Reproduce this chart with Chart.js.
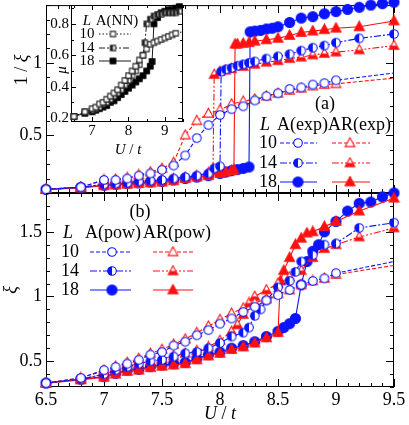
<!DOCTYPE html>
<html>
<head>
<meta charset="utf-8">
<script src="https://cdn.jsdelivr.net/npm/chart.js"></script>
<style>
  body { margin: 0; background: #fff; width: 409px; height: 425px; position: relative; overflow: hidden; }
  canvas { position: absolute; }
</style>
</head>
<body>
<canvas id="pa" width="409" height="200" style="left:0;top:0"></canvas>
<canvas id="pb" width="409" height="245" style="left:0;top:180px"></canvas>
<canvas id="inset" width="150" height="160" style="left:40px;top:0"></canvas>
<script>
// ---- panel (a): 1/xi from exponential fit ----
const uA10 = [6.5, 6.8, 7.0, 7.1, 7.2, 7.3, 7.4, 7.5, 7.6, 7.7, 7.8, 7.9, 8.0, 8.1, 8.2, 8.3, 8.4, 8.5, 8.6, 8.7, 8.8, 8.9, 9.0, 9.5];
const expA10 = [0.125, 0.14, 0.19, 0.19, 0.2, 0.22, 0.235, 0.26, 0.29, 0.36, 0.48, 0.57, 0.64, 0.68, 0.7, 0.74, 0.77, 0.79, 0.82, 0.83, 0.85, 0.86, 0.88, 0.93];
const expAR10 = [0.125, 0.14, 0.19, 0.195, 0.205, 0.225, 0.245, 0.27, 0.31, 0.5, 0.6, 0.65, 0.675, 0.715, 0.735, 0.75, 0.77, 0.79, 0.81, 0.825, 0.84, 0.85, 0.855, 0.895];

const uA14 = [6.5, 6.8, 7.0, 7.1, 7.2, 7.3, 7.4, 7.5, 7.6, 7.7, 7.8, 7.9, 7.95, 8.0, 8.01, 8.05, 8.1, 8.15, 8.2, 8.25, 8.3, 8.4, 8.5, 8.6, 8.7, 8.8, 8.9, 9.0, 9.2, 9.5];
const expA14 = [0.125, 0.14, 0.16, 0.165, 0.17, 0.18, 0.185, 0.19, 0.2, 0.21, 0.22, 0.235, 0.27, 0.285, 0.94, 0.955, 0.965, 0.98, 0.99, 1.0, 1.01, 1.03, 1.045, 1.06, 1.085, 1.105, 1.12, 1.14, 1.17, 1.2];
const uAR14 = [6.5, 6.8, 7.0, 7.1, 7.2, 7.3, 7.4, 7.5, 7.6, 7.7, 7.8, 7.9, 7.94, 7.95, 8.0, 8.05, 8.1, 8.2, 8.3, 8.4, 8.5, 8.6, 8.7, 8.8, 8.9, 9.0, 9.2, 9.5];
const expAR14 = [0.125, 0.14, 0.16, 0.165, 0.17, 0.18, 0.185, 0.19, 0.2, 0.21, 0.22, 0.24, 0.26, 0.92, 0.94, 0.95, 0.96, 0.975, 0.99, 1.005, 1.015, 1.03, 1.04, 1.055, 1.065, 1.075, 1.09, 1.12];

const uA18 = [6.5, 6.8, 7.0, 7.1, 7.2, 7.3, 7.4, 7.5, 7.6, 7.7, 7.8, 7.9, 8.0, 8.05, 8.1, 8.15, 8.2, 8.25, 8.26, 8.3, 8.35, 8.4, 8.45, 8.5, 8.6, 8.7, 8.8, 8.9, 9.0, 9.1, 9.2, 9.3, 9.4, 9.5];
const expA18 = [0.125, 0.138, 0.154, 0.16, 0.165, 0.17, 0.176, 0.18, 0.19, 0.2, 0.21, 0.22, 0.235, 0.245, 0.255, 0.262, 0.27, 0.28, 1.215, 1.22, 1.225, 1.235, 1.24, 1.25, 1.28, 1.31, 1.32, 1.34, 1.355, 1.37, 1.385, 1.4, 1.41, 1.42];
const uAR18 = [6.5, 6.8, 7.0, 7.1, 7.2, 7.3, 7.4, 7.5, 7.6, 7.7, 7.8, 7.9, 8.0, 8.05, 8.1, 8.12, 8.13, 8.15, 8.2, 8.25, 8.3, 8.4, 8.5, 8.6, 8.7, 8.8, 8.9, 9.0, 9.2, 9.5];
const expAR18 = [0.125, 0.135, 0.15, 0.155, 0.16, 0.165, 0.17, 0.175, 0.185, 0.2, 0.21, 0.22, 0.235, 0.245, 0.255, 0.26, 1.13, 1.13, 1.135, 1.14, 1.15, 1.16, 1.17, 1.19, 1.21, 1.22, 1.23, 1.24, 1.25, 1.29];

// ---- panel (b): xi from power-law fit ----
const uB10 = [6.5, 6.8, 7.0, 7.1, 7.2, 7.3, 7.4, 7.5, 7.6, 7.7, 7.8, 7.9, 8.0, 8.1, 8.2, 8.3, 8.4, 8.5, 8.6, 8.7, 8.8, 8.9, 9.0, 9.5];
const powA10 = [0.33, 0.37, 0.43, 0.455, 0.48, 0.51, 0.55, 0.57, 0.62, 0.65, 0.7, 0.74, 0.79, 0.83, 0.88, 0.92, 0.97, 1.01, 1.05, 1.09, 1.12, 1.14, 1.18, 1.27];
const powAR10 = [0.33, 0.37, 0.43, 0.46, 0.49, 0.52, 0.56, 0.59, 0.63, 0.67, 0.72, 0.77, 0.82, 0.87, 0.91, 0.95, 0.98, 1.02, 1.05, 1.09, 1.12, 1.14, 1.17, 1.24];

const uB14 = [6.5, 6.8, 7.0, 7.1, 7.2, 7.3, 7.4, 7.5, 7.6, 7.7, 7.8, 7.9, 8.0, 8.1, 8.2, 8.25, 8.3, 8.35, 8.4, 8.5, 8.6, 8.65, 8.7, 8.8, 8.9, 9.0, 9.2, 9.5];
const powA14 = [0.33, 0.36, 0.4, 0.43, 0.455, 0.48, 0.5, 0.51, 0.535, 0.56, 0.57, 0.6, 0.64, 0.69, 0.72, 0.76, 0.85, 0.9, 0.97, 1.07, 1.12, 1.19, 1.27, 1.32, 1.4, 1.41, 1.53, 1.57];
const uBR14 = [6.5, 6.8, 7.0, 7.1, 7.2, 7.3, 7.4, 7.5, 7.6, 7.7, 7.8, 7.9, 8.0, 8.1, 8.15, 8.2, 8.25, 8.3, 8.4, 8.5, 8.6, 8.7, 8.8, 8.9, 9.0, 9.2, 9.5];
const powAR14 = [0.33, 0.36, 0.4, 0.43, 0.46, 0.48, 0.5, 0.52, 0.54, 0.56, 0.58, 0.61, 0.66, 0.73, 0.78, 0.86, 0.95, 1.0, 1.05, 1.1, 1.15, 1.2, 1.3, 1.37, 1.4, 1.46, 1.53];

const uB18 = [6.5, 6.8, 7.0, 7.1, 7.2, 7.3, 7.4, 7.5, 7.6, 7.7, 7.8, 7.9, 8.0, 8.1, 8.2, 8.3, 8.4, 8.5, 8.55, 8.6, 8.65, 8.7, 8.75, 8.8, 8.85, 8.9, 9.0, 9.1, 9.2, 9.3, 9.4, 9.5];
const powA18 = [0.33, 0.36, 0.38, 0.405, 0.43, 0.436, 0.457, 0.47, 0.48, 0.49, 0.52, 0.55, 0.57, 0.6, 0.62, 0.65, 0.69, 0.73, 0.76, 0.79, 0.83, 1.09, 1.27, 1.35, 1.4, 1.5, 1.58, 1.66, 1.72, 1.73, 1.77, 1.8];
const uBR18 = [6.5, 6.8, 7.0, 7.1, 7.2, 7.3, 7.4, 7.5, 7.6, 7.7, 7.8, 7.9, 8.0, 8.1, 8.2, 8.3, 8.4, 8.5, 8.52, 8.55, 8.6, 8.65, 8.7, 8.75, 8.8, 8.9, 9.0, 9.2, 9.5];
const powAR18 = [0.33, 0.355, 0.375, 0.4, 0.42, 0.43, 0.45, 0.46, 0.47, 0.48, 0.51, 0.54, 0.56, 0.59, 0.61, 0.64, 0.68, 0.72, 1.12, 1.2, 1.3, 1.4, 1.45, 1.49, 1.5, 1.54, 1.58, 1.66, 1.76];

// ---- inset: mu, A(NN) ----
const uNN10 = [6.5, 6.8, 7.0, 7.1, 7.2, 7.3, 7.4, 7.5, 7.6, 7.7, 7.8, 7.9, 8.0, 8.1, 8.2, 8.3, 8.4, 8.5, 8.6, 8.7, 8.8, 8.9, 9.0, 9.1, 9.2, 9.3, 9.5];
const muNN10 = [0.21, 0.24, 0.26, 0.27, 0.29, 0.3, 0.32, 0.34, 0.36, 0.38, 0.41, 0.44, 0.47, 0.5, 0.53, 0.57, 0.6, 0.64, 0.67, 0.68, 0.69, 0.7, 0.71, 0.72, 0.73, 0.74, 0.75];
const uNN14 = [6.5, 6.8, 7.0, 7.1, 7.2, 7.3, 7.4, 7.5, 7.6, 7.7, 7.8, 7.9, 8.0, 8.1, 8.2, 8.3, 8.4, 8.45, 8.5, 8.6, 8.7, 8.8, 8.9, 9.0, 9.1, 9.2, 9.3, 9.4];
const muNN14 = [0.21, 0.24, 0.25, 0.26, 0.27, 0.29, 0.3, 0.32, 0.34, 0.36, 0.38, 0.41, 0.44, 0.47, 0.5, 0.54, 0.6, 0.68, 0.8, 0.83, 0.85, 0.86, 0.86, 0.87, 0.87, 0.87, 0.87, 0.88];
const uNN18 = [6.5, 6.8, 7.0, 7.1, 7.2, 7.3, 7.4, 7.5, 7.6, 7.7, 7.8, 7.9, 8.0, 8.1, 8.2, 8.3, 8.4, 8.5, 8.6, 8.65, 8.7, 8.8, 8.9, 9.0, 9.1, 9.2, 9.3, 9.4];
const muNN18 = [0.21, 0.23, 0.24, 0.25, 0.26, 0.27, 0.28, 0.3, 0.31, 0.33, 0.35, 0.37, 0.39, 0.41, 0.43, 0.45, 0.47, 0.5, 0.53, 0.56, 0.8, 0.84, 0.87, 0.88, 0.89, 0.89, 0.9, 0.91];

const blue = '#0a14ff';
const red = '#ff1010';
const FONT = '"Liberation Serif", "Times New Roman", serif';

// markers drawn once into small canvases and used as pointStyle
function marker(shape, fill, color, r) {
  const s = Math.ceil(r * 2 + 3);
  const c = document.createElement('canvas');
  c.width = c.height = s;
  const g = c.getContext('2d');
  const m = s / 2;
  const path = () => {
    g.beginPath();
    if (shape === 'circle') g.arc(m, m, r, 0, Math.PI * 2);
    else if (shape === 'tri') {
      g.moveTo(m, m - r * 1.1);
      g.lineTo(m + r, m + r * 0.75);
      g.lineTo(m - r, m + r * 0.75);
      g.closePath();
    } else g.rect(m - r, m - r, 2 * r, 2 * r);
  };
  g.fillStyle = '#fff';
  path(); g.fill();
  g.fillStyle = color;
  if (fill === 'full') { path(); g.fill(); }
  if (fill === 'half') {
    g.save(); path(); g.clip();
    if (shape === 'tri') g.fillRect(0, m, s, s); else g.fillRect(0, 0, m, s);
    g.restore();
  }
  g.lineWidth = 1.1;
  g.strokeStyle = color;
  path(); g.stroke();
  return c;
}

const st = {
  A10: { c: blue, dash: [4, 2], m: marker('circle', 'open', blue, 4.3) },
  A14: { c: blue, dash: [7, 2, 2, 2], m: marker('circle', 'half', blue, 4.3) },
  A18: { c: blue, dash: [], m: marker('circle', 'full', blue, 5) },
  AR10: { c: red, dash: [4, 2], m: marker('tri', 'open', red, 4.8) },
  AR14: { c: red, dash: [7, 2, 2, 2, 2, 2], m: marker('tri', 'half', red, 4.8) },
  AR18: { c: red, dash: [], m: marker('tri', 'full', red, 5) },
  N10: { c: '#000', dash: [1.5, 2], m: marker('square', 'open', '#222', 2.6) },
  N14: { c: '#000', dash: [6, 2, 2, 2], m: marker('square', 'half', '#222', 2.6) },
  N18: { c: '#000', dash: [], m: marker('square', 'full', '#000', 2.8) }
};

function series(us, vs, s, hideLast) {
  return {
    data: us.map((u, i) => ({ x: u, y: vs[i] })),
    borderColor: s.c,
    borderWidth: s.c === '#000' ? 0.9 : 1.1,
    borderDash: s.dash,
    pointStyle: s.m,
    pointRadius: us.map((u, i) => (hideLast && i === us.length - 1 ? 0 : 4)),
    showLine: true,
    clip: 8
  };
}

function eachTick(scale, t, fn) {
  const [minor, major, lmin, lmaj] = t;
  const n0 = Math.ceil(scale.min / minor - 1e-6);
  const n1 = Math.floor(scale.max / minor + 1e-6);
  for (let n = n0; n <= n1; n++) {
    const v = n * minor;
    const isMajor = Math.abs(v / major - Math.round(v / major)) < 1e-6;
    fn(scale.getPixelForValue(v), isMajor ? lmaj : lmin);
  }
}

function drawText(ctx, it) {
  const size = it.size || 18;
  ctx.save();
  ctx.translate(it.x, it.y);
  if (it.rot) ctx.rotate(-Math.PI / 2);
  ctx.fillStyle = '#000';
  ctx.textBaseline = 'middle';
  ctx.textAlign = 'left';
  const fonts = it.parts.map(p => (p[1] ? 'italic ' : '') + size + 'px ' + FONT);
  let w = 0;
  it.parts.forEach((p, i) => { ctx.font = fonts[i]; w += ctx.measureText(p[0]).width; });
  let x = -w / 2;
  it.parts.forEach((p, i) => { ctx.font = fonts[i]; ctx.fillText(p[0], x, 0); x += ctx.measureText(p[0]).width; });
  ctx.restore();
}

// frame, inward ticks, hand placed legends and axis labels
const deco = {
  id: 'deco',
  beforeDatasetsDraw(chart, args, o) {
    if (!o || !o.xt) return;
    const { ctx, chartArea: a, scales: { x, y } } = chart;
    ctx.save();
    if (o.bg) { ctx.fillStyle = '#fff'; ctx.fillRect(a.left, a.top, a.right - a.left, a.bottom - a.top); }
    ctx.strokeStyle = '#000';
    ctx.lineWidth = 1;
    ctx.strokeRect(a.left + 0.5, a.top + 0.5, a.right - a.left - 1, a.bottom - a.top - 1);
    ctx.beginPath();
    eachTick(x, o.xt, (p, L) => {
      p = Math.round(p) + 0.5;
      ctx.moveTo(p, a.bottom); ctx.lineTo(p, a.bottom - L);
      ctx.moveTo(p, a.top); ctx.lineTo(p, a.top + L);
    });
    eachTick(y, o.yt, (p, L) => {
      p = Math.round(p) + 0.5;
      ctx.moveTo(a.left, p); ctx.lineTo(a.left + L, p);
      ctx.moveTo(a.right, p); ctx.lineTo(a.right - L, p);
    });
    ctx.stroke();
    ctx.restore();
  },
  afterDraw(chart, args, o) {
    if (!o || !o.xt) return;
    const ctx = chart.ctx;
    const [ox, oy] = o.off;
    (o.samples || []).forEach(s => {
      ctx.save();
      ctx.strokeStyle = s.s.c;
      ctx.lineWidth = s.s.c === '#000' ? 0.9 : 1.1;
      ctx.setLineDash(s.s.dash);
      ctx.beginPath();
      ctx.moveTo(s.x1 - ox, s.y - oy);
      ctx.lineTo(s.x2 - ox, s.y - oy);
      ctx.stroke();
      ctx.drawImage(s.s.m, s.mx - ox - s.s.m.width / 2, s.y - oy - s.s.m.height / 2);
      ctx.restore();
    });
    (o.texts || []).forEach(t => drawText(ctx, Object.assign({}, t, { x: t.x - ox, y: t.y - oy })));
  }
};
Chart.register(deco);

function fixed(w, h) {
  return s => {
    if (w !== undefined) s.width = w;
    if (h !== undefined) s.height = h;
    s.paddingLeft = s.paddingRight = s.paddingTop = s.paddingBottom = 0;
  };
}

const plain = v => String(+v.toFixed(2));

function makeChart(id, datasets, scales, padding, decoOpts) {
  return new Chart(document.getElementById(id), {
    type: 'scatter',
    data: { datasets },
    options: {
      responsive: false,
      animation: false,
      events: [],
      devicePixelRatio: 1,
      layout: { padding },
      scales,
      plugins: { legend: { display: false }, tooltip: { enabled: false }, deco: decoOpts }
    }
  });
}

const noGrid = { display: false, drawTicks: false };

// panel (a)
makeChart('pa', [
  series(uA10, expA10, st.A10, true),
  series(uA10, expAR10, st.AR10, true),
  series(uA14, expA14, st.A14),
  series(uAR14, expAR14, st.AR14),
  series(uAR18, expAR18, st.AR18),
  series(uA18, expA18, st.A18)
], {
  x: { type: 'linear', min: 6.5, max: 9.5, grid: noGrid, border: { display: false }, ticks: { display: false }, afterFit: fixed(undefined, 7) },
  y: {
    type: 'linear', min: 0.1, max: 1.4, grid: noGrid, border: { display: false },
    afterBuildTicks: s => { s.ticks = [{ value: 0.5 }, { value: 1 }]; },
    ticks: { color: '#000', padding: 4, callback: plain, font: { family: FONT, size: 18 } },
    afterFit: fixed(46)
  }
}, { left: 0, right: 15, top: 0, bottom: 0 }, {
  off: [0, 0],
  xt: [0.1, 0.5, 4, 8],
  yt: [0.1, 0.5, 4, 8],
  texts: [
    { x: 325, y: 104, parts: [['(a)']] },
    { x: 265, y: 125, parts: [['L', 1]] },
    { x: 334, y: 125, parts: [['A(exp)AR(exp)']] },
    { x: 268, y: 143, parts: [['10']] },
    { x: 268, y: 163, parts: [['14']] },
    { x: 268, y: 182, parts: [['18']] },
    { x: 22, y: 70, rot: true, parts: [['1 / '], ['ξ', 1]] }
  ],
  samples: [
    { x1: 280, x2: 317, mx: 298, y: 143, s: st.A10 },
    { x1: 280, x2: 317, mx: 298, y: 163, s: st.A14 },
    { x1: 280, x2: 317, mx: 298, y: 182, s: st.A18 },
    { x1: 332, x2: 370, mx: 350, y: 143, s: st.AR10 },
    { x1: 332, x2: 370, mx: 350, y: 163, s: st.AR14 },
    { x1: 332, x2: 370, mx: 350, y: 182, s: st.AR18 }
  ]
});

// panel (b)
makeChart('pb', [
  series(uB10, powA10, st.A10, true),
  series(uB10, powAR10, st.AR10, true),
  series(uB14, powA14, st.A14),
  series(uBR14, powAR14, st.AR14),
  series(uBR18, powAR18, st.AR18),
  series(uB18, powA18, st.A18)
], {
  x: {
    type: 'linear', min: 6.5, max: 9.5, grid: noGrid, border: { display: false },
    ticks: { stepSize: 0.5, color: '#000', padding: 2, maxRotation: 0, callback: plain, font: { family: FONT, size: 18 } },
    afterFit: fixed(undefined, 38)
  },
  y: {
    type: 'linear', min: 0.3, max: 1.8, grid: noGrid, border: { display: false },
    afterBuildTicks: s => { s.ticks = [{ value: 0.5 }, { value: 1 }, { value: 1.5 }]; },
    ticks: { color: '#000', padding: 4, callback: plain, font: { family: FONT, size: 18 } },
    afterFit: fixed(46)
  }
}, { left: 0, right: 15, top: 13, bottom: 0 }, {
  off: [0, 180],
  xt: [0.1, 0.5, 4, 8],
  yt: [0.1, 0.5, 4, 8],
  texts: [
    { x: 140, y: 212, parts: [['(b)']] },
    { x: 68, y: 233, parts: [['L', 1]] },
    { x: 113, y: 233, parts: [['A(pow)']] },
    { x: 177, y: 233, parts: [['AR(pow)']] },
    { x: 70, y: 252, parts: [['10']] },
    { x: 70, y: 271, parts: [['14']] },
    { x: 70, y: 290, parts: [['18']] },
    { x: 11, y: 290, rot: true, parts: [['ξ', 1]] },
    { x: 220, y: 414, parts: [['U', 1], [' / '], ['t', 1]] }
  ],
  samples: [
    { x1: 90, x2: 131, mx: 112, y: 252, s: st.A10 },
    { x1: 90, x2: 131, mx: 112, y: 271, s: st.A14 },
    { x1: 90, x2: 131, mx: 112, y: 290, s: st.A18 },
    { x1: 153, x2: 193, mx: 173, y: 252, s: st.AR10 },
    { x1: 153, x2: 193, mx: 173, y: 271, s: st.AR14 },
    { x1: 153, x2: 193, mx: 173, y: 290, s: st.AR18 }
  ]
});

// inset (mu)
makeChart('inset', [
  series(uNN10, muNN10, st.N10, true),
  series(uNN14, muNN14, st.N14),
  series(uNN18, muNN18, st.N18)
], {
  x: {
    type: 'linear', min: 6.42, max: 9.5, grid: noGrid, border: { display: false },
    afterBuildTicks: s => { s.ticks = [{ value: 7 }, { value: 8 }, { value: 9 }]; },
    ticks: { color: '#000', padding: 0, maxRotation: 0, callback: plain, font: { family: FONT, size: 15 } },
    afterFit: fixed(undefined, 38)
  },
  y: {
    type: 'linear', min: 0.175, max: 0.92, grid: noGrid, border: { display: false },
    afterBuildTicks: s => { s.ticks = [{ value: 0.2 }, { value: 0.4 }, { value: 0.6 }, { value: 0.8 }]; },
    ticks: { color: '#000', padding: 2, callback: plain, font: { family: FONT, size: 15 } },
    afterFit: fixed(31)
  }
}, { left: 0, right: 7, top: 5, bottom: 0 }, {
  off: [40, 0],
  bg: true,
  xt: [0.5, 1, 3, 5],
  yt: [0.1, 0.2, 3, 5],
  texts: [
    { x: 87, y: 21, size: 15, parts: [['L', 1]] },
    { x: 117, y: 21, size: 15, parts: [['A(NN)']] },
    { x: 87, y: 34, size: 15, parts: [['10']] },
    { x: 87, y: 48, size: 15, parts: [['14']] },
    { x: 87, y: 61, size: 15, parts: [['18']] },
    { x: 62, y: 70, size: 15, rot: true, parts: [['μ', 1]] },
    { x: 128, y: 150, size: 15, parts: [['U', 1], [' / '], ['t', 1]] }
  ],
  samples: [
    { x1: 99, x2: 131, mx: 113, y: 34, s: st.N10 },
    { x1: 99, x2: 131, mx: 113, y: 48, s: st.N14 },
    { x1: 99, x2: 131, mx: 113, y: 61, s: st.N18 }
  ]
});
</script>
</body>
</html>
